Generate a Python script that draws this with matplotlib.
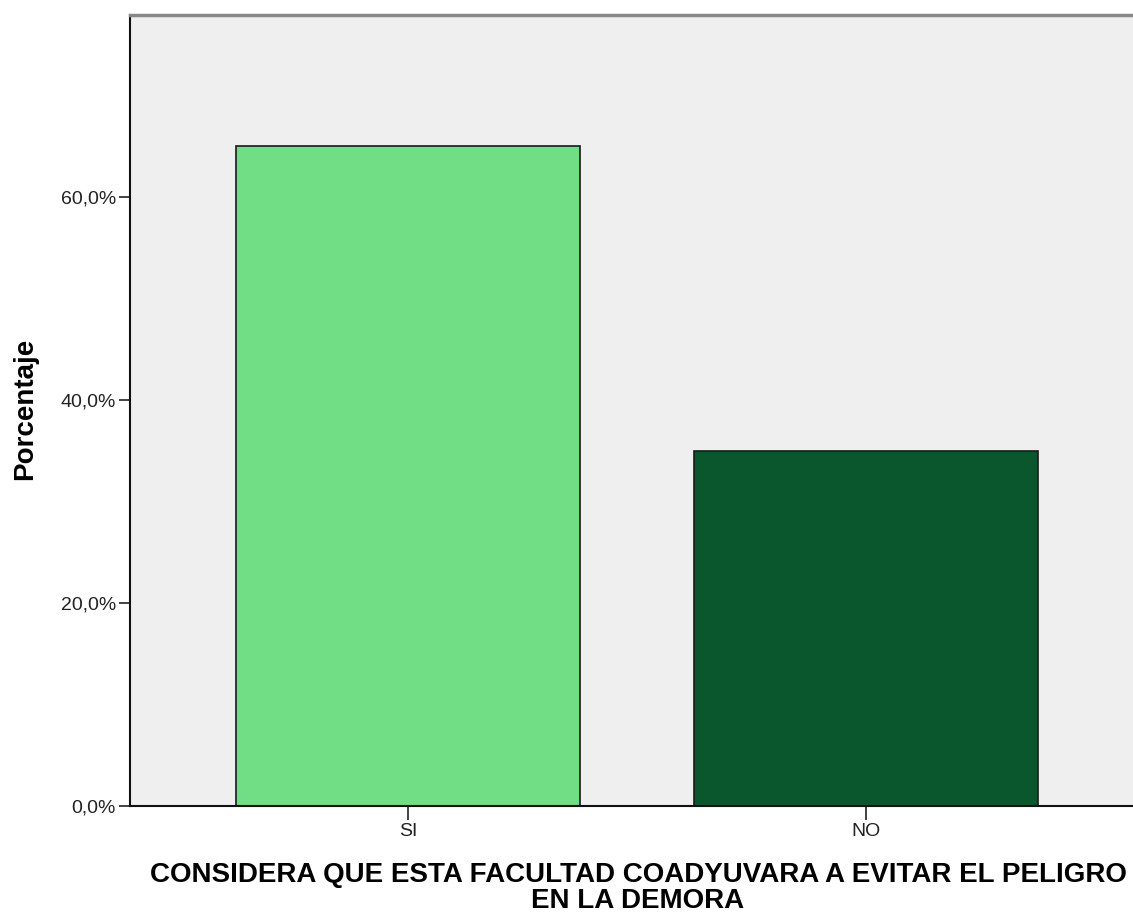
import matplotlib
matplotlib.use("Agg")
import matplotlib.pyplot as plt
from matplotlib.ticker import FuncFormatter

categories = ["SI", "NO"]
porcentajes = [65.0, 35.0]
colores = ["#71DD85", "#0A562D"]
y_ticks = [0, 20, 40, 60]

plt.rcParams["font.family"] = ["Liberation Sans", "DejaVu Sans"]

fig = plt.figure(figsize=(11.33, 9.15), dpi=100)
# axes runs a bit past the right edge of the figure
ax = fig.add_axes([130 / 1133, 1 - 806 / 915, 1014 / 1133, 791 / 915])
ax.set_facecolor("#EFEFEF")

x = list(range(len(categories)))
ax.bar(x, porcentajes, width=0.75, color=colores, edgecolor="#1a1a1a", linewidth=1.2, zorder=2)

ax.set_xlim(-0.607, 1.607)
ax.set_ylim(0, 77.9)
ax.set_xticks(x)
ax.set_xticklabels(categories)
ax.set_yticks(y_ticks)
ax.yaxis.set_major_formatter(FuncFormatter(lambda v, p: f"{v:.1f}%".replace(".", ",")))

ax.tick_params(axis="both", direction="out", length=8, width=1.2, color="#222222",
               labelsize=14, labelcolor="#222222", pad=2)
ax.tick_params(axis="x", length=10)

for side in ["left", "bottom"]:
    ax.spines[side].set_color("#111111")
    ax.spines[side].set_linewidth(1.5)
ax.spines["top"].set_color("#888888")
ax.spines["top"].set_linewidth(2.5)
ax.spines["right"].set_visible(False)

fig.text(25 / 1133, 1 - 409 / 915, "Porcentaje", rotation=90, ha="center", va="center",
         fontsize=20, fontweight="bold")
fig.text(638 / 1133, 1 - 888 / 915, "CONSIDERA QUE ESTA FACULTAD COADYUVARA A EVITAR EL PELIGRO\nEN LA DEMORA",
         ha="center", va="center", fontsize=20, fontweight="bold", linespacing=0.96, multialignment="center")

fig.savefig("out.png", dpi=100)
